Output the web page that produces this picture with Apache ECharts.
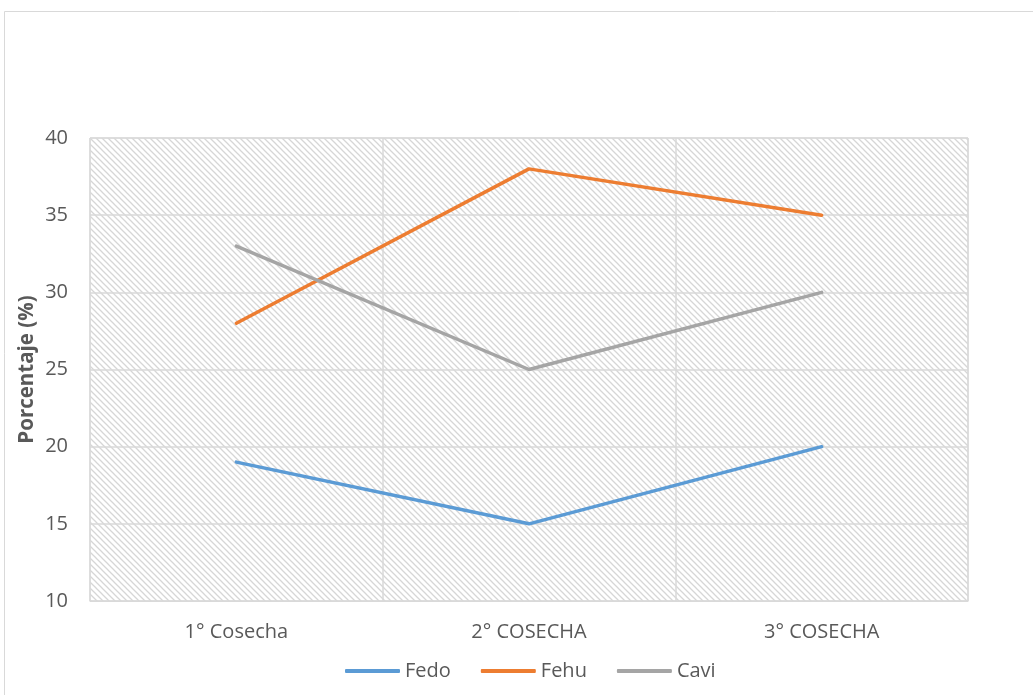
<!DOCTYPE html>
<html>
<head>
<meta charset="utf-8">
<script src="https://cdn.jsdelivr.net/npm/echarts@6/dist/echarts.min.js"></script>
<style>
  html, body { margin: 0; padding: 0; background: #fff; }
  #chart { width: 1033px; height: 695px; }
</style>
</head>
<body>
<div id="chart"></div>
<script>
const categories = ['1° Cosecha', '2° COSECHA', '3° COSECHA'];
const fedo = [19, 15, 20];
const fehu = [28, 38, 35];
const cavi = [33, 25, 30];
const yTicks = { min: 10, max: 40, step: 5 };

// diagonal hatch used as plot-area fill
function hatchPattern() {
  const s = 6;
  const c = document.createElement('canvas');
  c.width = s; c.height = s;
  const ctx = c.getContext('2d');
  ctx.fillStyle = '#ffffff';
  ctx.fillRect(0, 0, s, s);
  ctx.strokeStyle = '#d6d6d6';
  ctx.lineWidth = 1.3;
  ctx.beginPath();
  ctx.moveTo(-1, -1); ctx.lineTo(s + 1, s + 1);
  ctx.moveTo(-1, s - 1); ctx.lineTo(1, s + 1);
  ctx.moveTo(s - 1, -1); ctx.lineTo(s + 1, 1);
  ctx.stroke();
  return c;
}

const chart = echarts.init(document.getElementById('chart'), null, { renderer: 'canvas' });
const font = '"Open Sans", "Noto Sans", sans-serif';
const textColor = '#595959';

function lineSeries(name, data, color) {
  return {
    name, type: 'line', data,
    symbol: 'none',
    lineStyle: { color, width: 3.5, cap: 'round' },
    itemStyle: { color },
    emphasis: { disabled: true }
  };
}

chart.setOption({
  animation: false,
  backgroundColor: '#ffffff',
  textStyle: { fontFamily: font },
  graphic: [{
    type: 'rect',
    shape: { x: 4.5, y: 11.5, width: 1040, height: 700 },
    style: { fill: 'none', stroke: '#d9d9d9', lineWidth: 1 },
    silent: true
  }],
  grid: {
    left: 90, right: 65, top: 138, bottom: 94,
    show: true,
    backgroundColor: { image: hatchPattern(), repeat: 'repeat' },
    borderColor: '#d9d9d9',
    borderWidth: 1
  },
  legend: {
    bottom: 14,
    left: 345,
    padding: 0,
    itemWidth: 55,
    itemHeight: 4,
    itemGap: 30,
    icon: 'roundRect',
    textStyle: { color: textColor, fontSize: 20, fontFamily: font },
    data: ['Fedo', 'Fehu', 'Cavi']
  },
  xAxis: {
    type: 'category',
    data: categories,
    boundaryGap: true,
    axisLine: { show: true, lineStyle: { color: '#d9d9d9', width: 1 } },
    axisTick: { show: false },
    splitLine: { show: true, lineStyle: { color: '#d9d9d9', width: 1.5 } },
    axisLabel: { color: textColor, fontSize: 20, margin: 21, fontFamily: font }
  },
  yAxis: {
    type: 'value',
    min: yTicks.min, max: yTicks.max, interval: yTicks.step,
    name: 'Porcentaje (%)',
    nameLocation: 'middle',
    nameGap: 52,
    nameMoveOverlap: false,
    nameTextStyle: { color: textColor, fontSize: 20.5, fontWeight: 'bold', fontFamily: font },
    axisLine: { show: false },
    axisTick: { show: false },
    splitLine: { show: true, lineStyle: { color: '#d9d9d9', width: 1.5 } },
    axisLabel: { color: textColor, fontSize: 20, margin: 22, fontFamily: font }
  },
  series: [
    lineSeries('Fedo', fedo, '#5b9bd5'),
    lineSeries('Fehu', fehu, '#ed7d31'),
    lineSeries('Cavi', cavi, '#a5a5a5')
  ]
});
</script>
</body>
</html>
